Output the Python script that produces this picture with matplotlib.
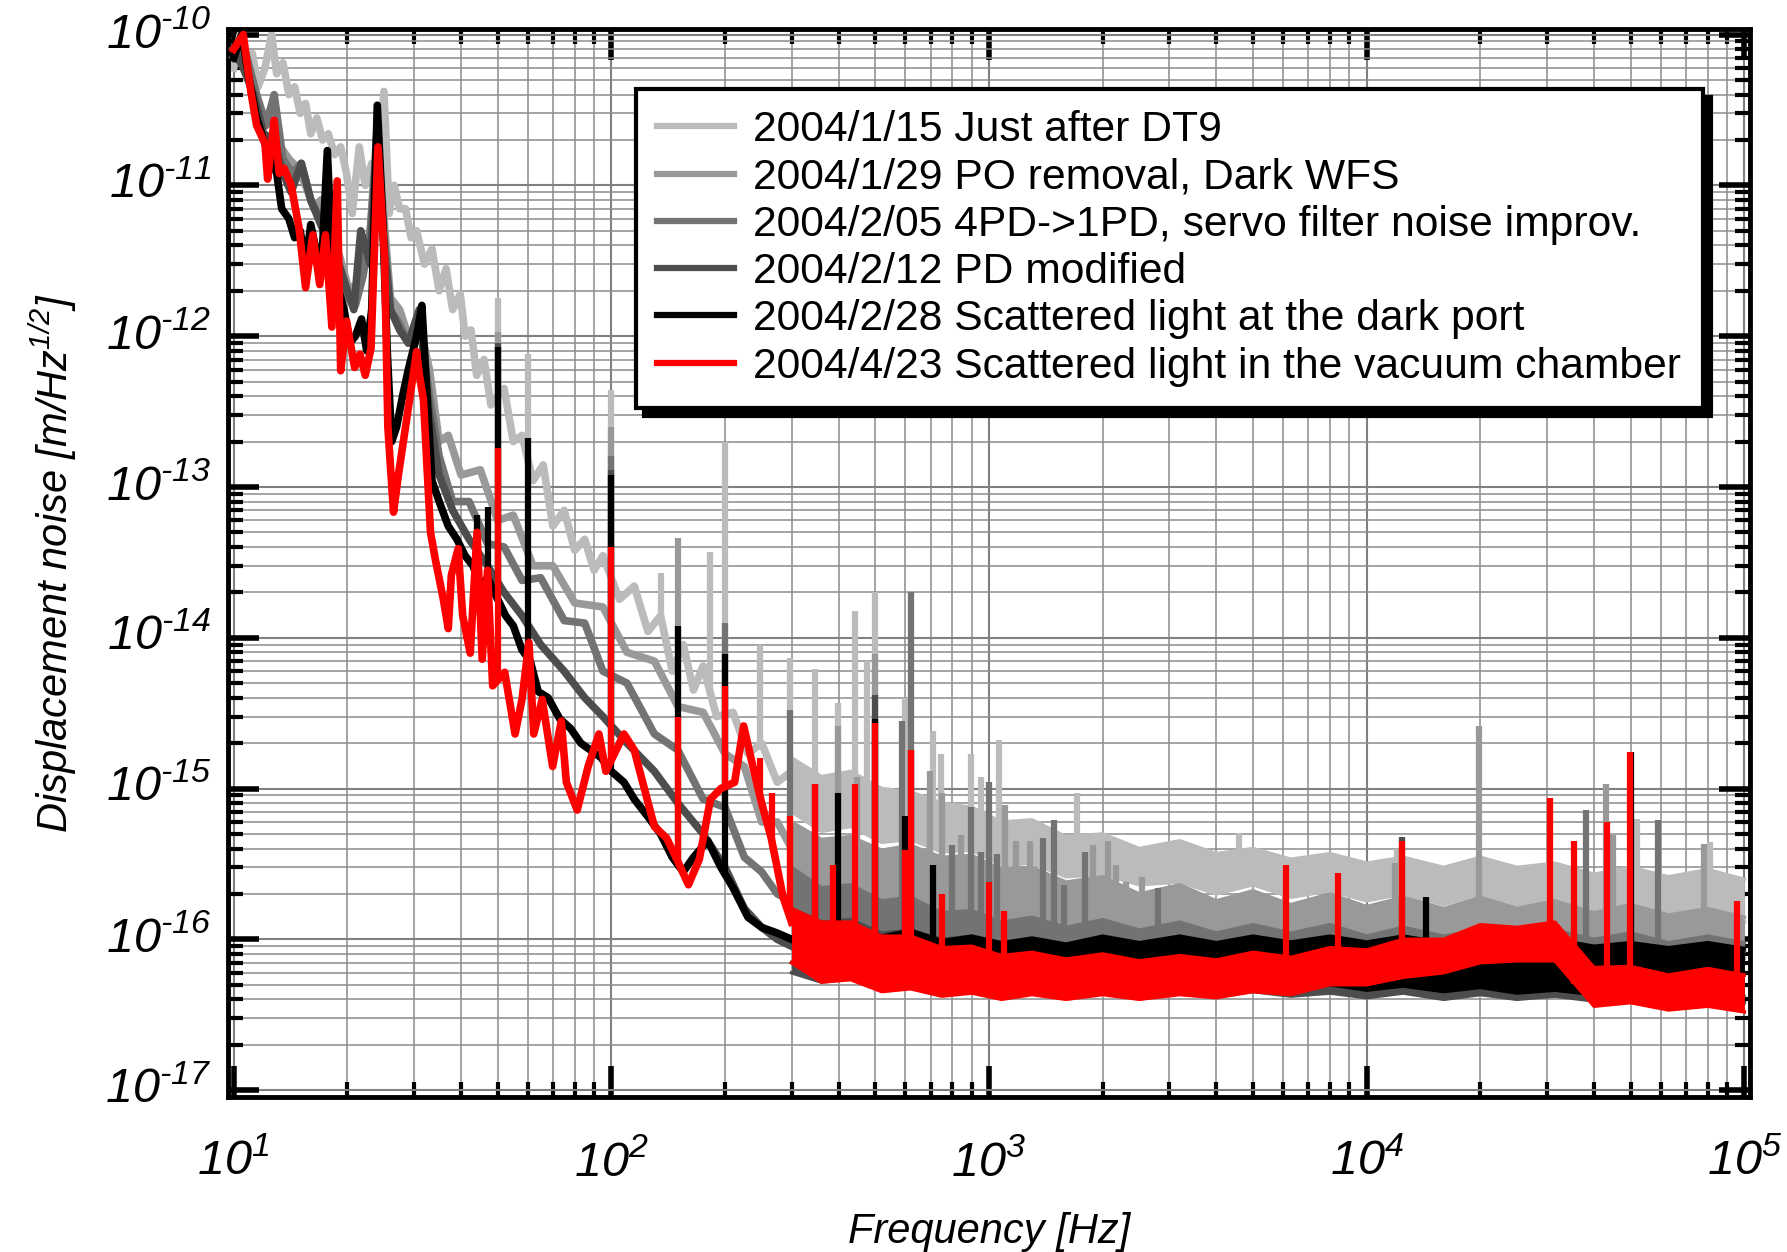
import numpy as np
import matplotlib
matplotlib.use("Agg")
import matplotlib.pyplot as plt
from matplotlib import ticker
from matplotlib.lines import Line2D

plt.rcParams['font.family'] = ['Liberation Sans', 'DejaVu Sans']
plt.rcParams['mathtext.fontset'] = 'custom'
plt.rcParams['mathtext.rm'] = 'Liberation Sans:italic'
plt.rcParams['mathtext.it'] = 'Liberation Sans:italic'
plt.rcParams['mathtext.sf'] = 'Liberation Sans:italic'

labels = ["2004/1/15 Just after DT9",
          "2004/1/29 PO removal, Dark WFS",
          "2004/2/05 4PD->1PD, servo filter noise improv.",
          "2004/2/12 PD modified",
          "2004/2/28 Scattered light at the dark port",
          "2004/4/23 Scattered light in the vacuum chamber"]
colors = ["#bbbbbb", "#999999", "#737373", "#4d4d4d", "black", "red"]

# ---- low frequency part of each spectrum (Hz, m/rtHz) ----
f_jan15 = [10.0, 10.4, 10.8, 11.2, 11.6, 12.1, 12.6, 13.0, 13.5, 14.0,
           14.5, 15.0, 15.5, 16.0, 16.6, 17.2, 17.8, 18.5, 19.2, 19.9,
           20.6, 21.5, 22.3, 23.2, 24.0, 25.0, 25.8, 26.6, 27.5, 28.5,
           29.5, 30.5, 32.0, 33.5, 35.0, 36.5, 38.0, 39.8, 41.0, 42.5,
           44.0, 46.0, 48.0, 52.0, 55.0, 58.0, 62.0, 66.0, 70.0, 75.0,
           80.0, 85.0, 90.0, 95.0, 105, 115, 125, 135, 145, 155,
           165, 175, 190, 210, 230, 250, 275, 300]
a_jan15 = [6e-11, 1e-10, 6e-11, 7.5e-11, 4.5e-11, 6e-11, 1e-10, 5.5e-11, 6.5e-11, 4e-11,
           4.5e-11, 3e-11, 3.5e-11, 2.2e-11, 2.8e-11, 2e-11, 2.2e-11, 1.6e-11, 1.8e-11, 1.2e-11,
           6.5e-12, 1.8e-11, 1.0e-11, 1.4e-11, 9e-12, 4.2e-11, 6.5e-12, 1.0e-11, 7e-12, 7e-12,
           4.5e-12, 5e-12, 3e-12, 3.8e-12, 2e-12, 2.8e-12, 1.5e-12, 1.9e-12, 1.0e-12, 1.1e-12,
           5.5e-13, 7e-13, 3.5e-13, 4.5e-13, 2e-13, 2.2e-13, 1.1e-13, 1.4e-13, 5.5e-14, 7e-14,
           3.8e-14, 4.5e-14, 2.8e-14, 3.5e-14, 1.8e-14, 2.2e-14, 1.1e-14, 1.4e-14, 6e-15, 9e-15,
           4.5e-15, 6.5e-15, 3e-15, 3.2e-15, 1.7e-15, 2.0e-15, 1.1e-15, 1.3e-15]

f_jan29 = [10.0, 10.5, 11.0, 11.5, 12.0, 12.7, 13.3, 14.0, 14.8, 15.5,
           16.3, 17.0, 18.0, 19.0, 20.0, 21.0, 22.0, 23.0, 24.0, 25.0,
           26.0, 27.5, 29.0, 31.0, 33.0, 35.0, 37.0, 40.0, 45.0, 50.0,
           55.0, 62.0, 70.0, 80.0, 95.0, 110, 130, 150, 175, 200,
           225, 250, 275, 300]
a_jan29 = [8e-11, 9e-11, 5e-11, 4e-11, 2.5e-11, 3.5e-11, 1.8e-11, 1.5e-11, 1.3e-11, 1.0e-11,
           7e-12, 8e-12, 5e-12, 3.5e-12, 2.2e-12, 2e-12, 3e-12, 5e-12, 2.5e-11, 6e-12,
           1.8e-12, 1.5e-12, 1.0e-12, 1.2e-12, 6e-13, 2e-13, 2.2e-13, 1.2e-13, 1.3e-13, 6e-14,
           6.5e-14, 3e-14, 3e-14, 1.7e-14, 1.6e-14, 8e-15, 7e-15, 3.5e-15, 3.2e-15, 1.7e-15,
           1.4e-15, 6e-16, 6e-16, 4e-16]

f_feb05 = [10.0, 10.7, 11.5, 12.2, 12.8, 13.5, 14.3, 15.1, 16.0, 17.0,
           18.0, 19.0, 20.0, 21.0, 22.0, 23.0, 24.0, 25.0, 26.0, 27.5,
           29.0, 31.0, 33.0, 35.0, 38.0, 42.0, 47.0, 52.0, 58.0, 65.0,
           75.0, 85.0, 95.0, 110, 130, 150, 175, 200, 225, 250,
           275, 300]
a_feb05 = [7e-11, 8e-11, 4e-11, 2.5e-11, 4e-11, 1.5e-11, 1.2e-11, 1.4e-11, 8e-12, 6e-12,
           4.5e-12, 3e-12, 1.8e-12, 1.6e-12, 2.5e-12, 5e-12, 2e-11, 5e-12, 1.5e-12, 1.2e-12,
           9e-13, 1.3e-12, 4e-13, 1.6e-13, 8e-14, 8e-14, 4.2e-14, 4e-14, 2.4e-14, 2.5e-14,
           1.3e-14, 1.25e-14, 6e-15, 5e-15, 2.3e-15, 1.8e-15, 8.5e-16, 7.5e-16, 3.5e-16, 2.8e-16,
           2e-16, 1.8e-16]

f_feb12 = [10.0, 10.6, 11.3, 12.0, 12.8, 13.5, 14.2, 15.1, 16.0, 17.0,
           18.0, 19.0, 20.0, 20.8, 21.7, 23.0, 24.0, 25.0, 26.0, 27.5,
           29.0, 31.0, 33.0, 35.0, 38.0, 42.0, 47.0, 52.0, 58.0, 65.0,
           75.0, 85.0, 95.0, 110, 130, 150, 175, 200, 225, 250,
           275, 300]
a_feb12 = [8e-11, 6e-11, 4e-11, 2.2e-11, 2.0e-11, 1.2e-11, 9e-12, 1.4e-11, 8e-12, 5.5e-12,
           4e-12, 3e-12, 2e-12, 1.5e-12, 5e-12, 3e-12, 2.5e-11, 4e-12, 1.5e-12, 1.1e-12,
           9e-13, 1.5e-12, 3e-13, 1.2e-13, 7e-14, 4.5e-14, 3e-14, 2e-14, 1.4e-14, 9e-15,
           6e-15, 4e-15, 3e-15, 2e-15, 1.3e-15, 8e-16, 5e-16, 3e-16, 1.6e-16, 1.2e-16,
           1.0e-16, 9e-17]

f_feb28 = [10.0, 10.5, 11.0, 11.5, 12.0, 12.5, 13.0, 13.4, 14.0, 14.5,
           15.0, 15.5, 16.0, 16.6, 17.2, 17.7, 18.3, 19.0, 19.6, 20.3,
           21.0, 21.8, 22.5, 23.2, 24.0, 24.8, 25.5, 26.2, 27.0, 28.0,
           29.0, 30.5, 31.5, 32.5, 33.5, 35.0, 37.0, 39.0, 41.0, 43.0,
           45.0, 47.0, 50.0, 52.5, 55.0, 58.0, 61.0, 64.0, 68.0, 73.0,
           78.0, 83.0, 88.0, 94.0, 100, 108, 115, 125, 135, 145,
           155, 165, 180, 195, 210, 230, 250, 275, 300]
a_feb28 = [7e-11, 1e-10, 5e-11, 2.8e-11, 2.0e-11, 1.5e-11, 1.2e-11, 7e-12, 6e-12, 4.5e-12,
           5e-12, 3e-12, 5.5e-12, 3.5e-12, 4e-12, 1.7e-11, 2.5e-12, 2.0e-12, 1.5e-12, 9e-13,
           1.0e-12, 1.3e-12, 8e-13, 1.5e-12, 3.4e-11, 6e-12, 8e-13, 2e-13, 2.5e-13, 4e-13,
           6e-13, 1.0e-12, 1.6e-12, 4e-13, 1.1e-13, 8e-14, 5.5e-14, 4.5e-14, 3.5e-14, 3e-14,
           2.2e-14, 2.5e-14, 1.8e-14, 1.4e-14, 1.2e-14, 8.3e-15, 7e-15, 4.4e-15, 4e-15, 2.9e-15,
           2.5e-15, 2.0e-15, 1.8e-15, 1.6e-15, 1.3e-15, 1.1e-15, 8.5e-16, 6.5e-16, 5e-16, 3.5e-16,
           2.8e-16, 3.5e-16, 4.5e-16, 3e-16, 2.2e-16, 1.4e-16, 1.2e-16, 1.1e-16, 1.0e-16]

f_apr23 = [10.0, 10.6, 11.1, 11.5, 12.1, 12.3, 12.8, 13.2, 13.6, 14.2,
           14.9, 15.5, 16.2, 16.9, 17.5, 18.2, 18.8, 19.2, 19.9, 20.9,
           21.6, 22.3, 23.1, 24.1, 25.1, 25.6, 26.5, 27.3, 28.7, 30.5,
           31.0, 31.8, 33.2, 34.2, 35.9, 37.0, 37.7, 39.3, 40.4, 42.3,
           44.1, 45.5, 47.0, 48.5, 52.2, 55.6, 58.0, 60.5, 62.3, 65.6,
           69.9, 73.7, 76.0, 81.2, 86.8, 92.7, 96.7, 108, 115, 118,
           130, 140, 149, 160, 171, 183, 195, 212, 224, 237,
           250, 265, 285, 300]
a_apr23 = [8e-11, 1e-10, 4.2e-11, 2.5e-11, 1.9e-11, 1.1e-11, 2.7e-11, 1.2e-11, 1.3e-11, 1.0e-11,
           5.2e-12, 2.1e-12, 4.7e-12, 2.2e-12, 4.7e-12, 1.15e-12, 1.07e-11, 5.9e-13, 1.26e-12, 6.2e-13,
           7.6e-13, 5.5e-13, 8.3e-13, 1.8e-11, 3.2e-12, 2.5e-13, 6.8e-14, 1.2e-13, 2.8e-13, 7.9e-13,
           5.6e-13, 3.8e-13, 5e-14, 3.3e-14, 1.8e-14, 1.15e-14, 2.6e-14, 3.9e-14, 1.4e-14, 7.9e-15,
           5e-14, 7.2e-15, 2.8e-14, 4.8e-15, 5.9e-15, 2.3e-15, 3.9e-15, 9.3e-15, 2.3e-15, 3.9e-15,
           1.4e-15, 2.8e-15, 1.1e-15, 7.2e-16, 1.4e-15, 2.3e-15, 1.3e-15, 2.3e-15, 1.8e-15, 1.4e-15,
           5.6e-16, 4.7e-16, 3.4e-16, 2.3e-16, 3.4e-16, 8.5e-16, 1.0e-15, 1.1e-15, 2.6e-15, 1.4e-15,
           8e-16, 4.7e-16, 1.9e-16, 1.3e-16]

# ---- high frequency noise floor: lower / upper edge of the band, in 1e-16 m/rtHz ----
band_freq = [300, 360, 430, 520, 620, 750, 900, 1080, 1300, 1600,
             2000, 2500, 3200, 4000, 5000, 6300, 8000, 10000, 12500, 16000,
             20000, 25000, 31500, 40000, 50000, 63000, 80000, 100000]
lo_jan15 = [7, 5.2, 5.6, 4.4, 4.6, 3.8, 3.9, 3.1, 3.2, 2.6, 2.7, 2.3, 2.4, 2.0, 2.3, 1.9, 2.1, 1.8, 2.0, 1.7, 2.0, 1.6, 1.8, 1.5, 1.6, 1.4, 1.5, 1.3]
hi_jan15 = [16, 12, 13, 10, 9.5, 8, 7.5, 6, 6.2, 4.8, 5.0, 4.0, 4.5, 3.7, 4.0, 3.4, 3.7, 3.2, 3.5, 3.0, 3.5, 3.0, 3.2, 2.7, 3.0, 2.6, 2.9, 2.5]
lo_jan29 = [2.6, 2.0, 2.1, 1.7, 1.8, 1.55, 1.6, 1.35, 1.45, 1.2, 1.25, 1.05, 1.15, 1.0, 1.1, 0.92, 1.0, 0.88, 0.98, 0.85, 0.95, 0.82, 0.92, 0.8, 0.88, 0.78, 0.85, 0.75]
hi_jan29 = [6, 4.6, 4.8, 3.9, 4.2, 3.5, 3.6, 2.9, 3.0, 2.4, 2.6, 2.0, 2.3, 1.8, 2.1, 1.7, 2.0, 1.65, 1.9, 1.6, 1.9, 1.6, 1.8, 1.5, 1.7, 1.45, 1.6, 1.4]
lo_feb05 = [1.0, 0.8, 0.78, 0.66, 0.68, 0.6, 0.62, 0.55, 0.58, 0.52, 0.56, 0.5, 0.55, 0.5, 0.53, 0.48, 0.52, 0.47, 0.5, 0.46, 0.5, 0.45, 0.48, 0.44, 0.46, 0.43, 0.45, 0.42]
hi_feb05 = [3, 2.2, 2.3, 1.8, 1.9, 1.5, 1.55, 1.3, 1.4, 1.2, 1.35, 1.15, 1.3, 1.1, 1.25, 1.1, 1.25, 1.05, 1.2, 1.05, 1.15, 1.0, 1.15, 1.0, 1.1, 0.95, 1.05, 0.95]
lo_feb12 = [0.6, 0.52, 0.55, 0.48, 0.5, 0.45, 0.48, 0.44, 0.47, 0.43, 0.46, 0.43, 0.46, 0.42, 0.45, 0.42, 0.44, 0.41, 0.44, 0.4, 0.43, 0.4, 0.42, 0.39, 0.42, 0.38, 0.41, 0.38]
hi_feb12 = [1.6, 1.3, 1.35, 1.1, 1.15, 1.0, 1.05, 0.93, 1.0, 0.9, 0.98, 0.9, 0.97, 0.88, 0.96, 0.88, 0.96, 0.87, 0.95, 0.86, 0.93, 0.85, 0.92, 0.85, 0.92, 0.84, 0.9, 0.83]
lo_feb28 = [0.7, 0.58, 0.6, 0.53, 0.56, 0.5, 0.54, 0.49, 0.53, 0.48, 0.52, 0.48, 0.52, 0.48, 0.51, 0.47, 0.5, 0.46, 0.49, 0.45, 0.48, 0.44, 0.46, 0.43, 0.45, 0.41, 0.43, 0.4]
hi_feb28 = [1.5, 1.2, 1.25, 1.05, 1.15, 0.98, 1.05, 0.95, 1.02, 0.93, 1.05, 0.95, 1.05, 0.95, 1.05, 0.96, 1.05, 0.96, 1.05, 0.95, 1.0, 0.92, 1.0, 0.9, 0.95, 0.88, 0.95, 0.87]
lo_apr23 = [0.7, 0.52, 0.54, 0.45, 0.47, 0.42, 0.44, 0.4, 0.43, 0.4, 0.43, 0.4, 0.43, 0.41, 0.45, 0.43, 0.5, 0.5, 0.56, 0.6, 0.7, 0.72, 0.72, 0.36, 0.38, 0.34, 0.36, 0.33]
hi_apr23 = [1.6, 1.3, 1.3, 1.05, 1.05, 0.88, 0.9, 0.78, 0.82, 0.74, 0.8, 0.72, 0.78, 0.73, 0.82, 0.76, 0.88, 0.85, 1.0, 1.0, 1.25, 1.2, 1.3, 0.65, 0.66, 0.58, 0.64, 0.58]

# ---- line peaks (Hz, top value) ----
fs_jan15 = [50, 60, 100, 135, 183, 200, 247, 298, 346, 398, 441, 476, 500, 600, 710, 744, 898, 950, 1060, 1710, 4600, 12000, 52000, 81000]
ts_jan15 = [1.8e-12, 7.6e-13, 4.4e-13, 2.7e-14, 3.7e-14, 2e-13, 8.9e-15, 7.3e-15, 6.2e-15, 3.7e-15, 1.5e-14, 7e-15, 2.0e-14, 4e-15, 2.4e-15, 1.7e-15, 1.7e-15, 1.2e-15, 2.1e-15, 9.3e-16, 5.1e-16, 4e-16, 6.3e-16, 4.4e-16]
fs_jan29 = [50, 100, 150, 398, 448, 500, 698, 752, 845, 1100, 1180, 1280, 1880, 2060, 2170, 2300, 2540, 11900, 19800, 43000, 45000, 78000]
ts_jan29 = [1.07e-12, 2.5e-13, 4.6e-14, 2.6e-15, 1.2e-15, 7.8e-15, 1.3e-15, 9.3e-16, 4.9e-16, 7.8e-16, 4.5e-16, 4.5e-16, 4.2e-16, 4.5e-16, 3.1e-16, 2.4e-16, 2.6e-16, 3.2e-16, 2.6e-15, 1.07e-15, 4.9e-16, 4.3e-16]
fs_feb05 = [100, 200, 298, 589, 623, 800, 898, 950, 1000, 1050, 1390, 1490, 1580, 1790, 2810, 38000, 59000]
ts_feb05 = [1.6e-13, 1.26e-14, 3.3e-15, 2.8e-15, 2e-14, 4.2e-16, 7.6e-16, 3.8e-16, 1.1e-15, 3.7e-16, 4.7e-16, 6.2e-16, 2.3e-16, 3.8e-16, 2.2e-16, 7.2e-16, 6.2e-16]
fs_feb12 = [50, 100, 500, 12400]
ts_feb12 = [9e-13, 1.3e-13, 4.2e-15, 4.8e-16]
fs_feb28 = [44, 47, 50, 60, 100, 150, 200, 346, 398, 500, 600, 623, 710, 14400, 50000]
ts_feb28 = [6.5e-14, 7.4e-14, 8.5e-13, 2.1e-13, 1.2e-13, 1.2e-14, 7.8e-15, 1.07e-15, 9.3e-16, 2.9e-15, 6.6e-16, 1.8e-15, 3.1e-16, 1.9e-16, 1.75e-15]
fs_apr23 = [50, 60, 100, 150, 200, 247, 267, 298, 346, 386, 441, 500, 600, 623, 752, 1000, 1095, 6100, 8400, 12400, 30600, 35500, 43200, 49900, 95800]
ts_apr23 = [1.8e-13, 9.3e-15, 4e-14, 3e-15, 4.8e-15, 1.6e-15, 9.3e-16, 6.6e-16, 1.07e-15, 3.1e-16, 1.07e-15, 2.7e-15, 3.9e-16, 1.8e-15, 2e-16, 2.4e-16, 1.55e-16, 3.1e-16, 2.75e-16, 4.5e-16, 8.7e-16, 4.5e-16, 6e-16, 1.74e-15, 1.8e-16]

traces = [(f_jan15, a_jan15, lo_jan15, hi_jan15, fs_jan15, ts_jan15),
          (f_jan29, a_jan29, lo_jan29, hi_jan29, fs_jan29, ts_jan29),
          (f_feb05, a_feb05, lo_feb05, hi_feb05, fs_feb05, ts_feb05),
          (f_feb12, a_feb12, lo_feb12, hi_feb12, fs_feb12, ts_feb12),
          (f_feb28, a_feb28, lo_feb28, hi_feb28, fs_feb28, ts_feb28),
          (f_apr23, a_apr23, lo_apr23, hi_apr23, fs_apr23, ts_apr23)]

fig = plt.figure(figsize=(17.87, 12.52), dpi=100)
ax = fig.add_axes([0.1276, 0.124, 0.8517, 0.8532])
ax.set_xscale('log')
ax.set_yscale('log')

lw = 5.5
for k, (f, a, lo, hi, fs, ts) in enumerate(traces):
    c = colors[k]
    lo = np.array(lo) * 1e-16
    hi = np.array(hi) * 1e-16
    z = 2 + k
    ax.plot(f, a, color=c, lw=lw, zorder=z)
    ax.fill_between(band_freq, lo, hi, color=c, lw=0, zorder=z)
    ax.plot(band_freq, lo, color=c, lw=2.5, zorder=z)
    ax.plot(band_freq, hi, color=c, lw=2.5, zorder=z)
    # peaks rise from the curve itself
    fx = np.concatenate([f, band_freq[1:]])
    ax_ = np.concatenate([a, lo[1:]])
    base = 10 ** np.interp(np.log10(fs), np.log10(fx), np.log10(ax_))
    ax.vlines(fs, base, ts, color=c, lw=4.5, zorder=z)

ax.set_xlim(10 ** 0.985, 10 ** 5.015)
ax.set_ylim(10 ** -17.044, 10 ** -9.96)

for axis in [ax.xaxis, ax.yaxis]:
    axis.set_major_locator(ticker.LogLocator(base=10, numticks=30))
    axis.set_minor_locator(ticker.LogLocator(base=10, subs=np.arange(2, 10), numticks=30))
    axis.set_major_formatter(ticker.FuncFormatter(
        lambda v, p: r'$10^{\text{-}%d}$' % -int(round(np.log10(v))) if v < 1
        else r'$10^{%d}$' % int(round(np.log10(v)))))
    axis.set_minor_formatter(ticker.NullFormatter())

ax.tick_params(which='major', direction='in', length=22, width=4, top=True, right=True,
               labelsize=35)
ax.tick_params(axis='x', which='major', pad=31)
ax.tick_params(axis='y', which='major', pad=12)
ax.tick_params(which='minor', direction='in', length=11, width=3, top=True, right=True)
for s in ax.spines.values():
    s.set_linewidth(3.5)
for t in ax.get_yticklabels():
    t.set_verticalalignment('center')

ax.grid(which='major', color='#808080', lw=1.5)
ax.grid(which='minor', color='#8c8c8c', lw=1.1)
ax.set_axisbelow(True)

ax.set_xlabel('Frequency [Hz]', fontsize=30, fontstyle='italic')
ax.set_ylabel('Displacement noise [m/Hz$^{1/2}$]', fontsize=30, fontstyle='italic')
ax.xaxis.set_label_coords(0.5, -0.108)
ax.yaxis.set_label_coords(-0.098, 0.5)

handles = [Line2D([], [], color=c, lw=4.5) for c in colors]
leg = ax.legend(handles, labels, loc='upper left', bbox_to_anchor=(636 / 1787, 1 - 89 / 1252),
                bbox_transform=fig.transFigure, borderaxespad=0, fontsize=30.7,
                handlelength=1.8, handletextpad=0.45, borderpad=0.5, labelspacing=0.17,
                frameon=True, fancybox=False, edgecolor='black', framealpha=1,
                shadow={'color': 'black', 'alpha': 1, 'ox': 6, 'oy': -6})
leg.get_frame().set_linewidth(3)
leg.set_zorder(20)

fig.savefig('out.png', dpi=100)
